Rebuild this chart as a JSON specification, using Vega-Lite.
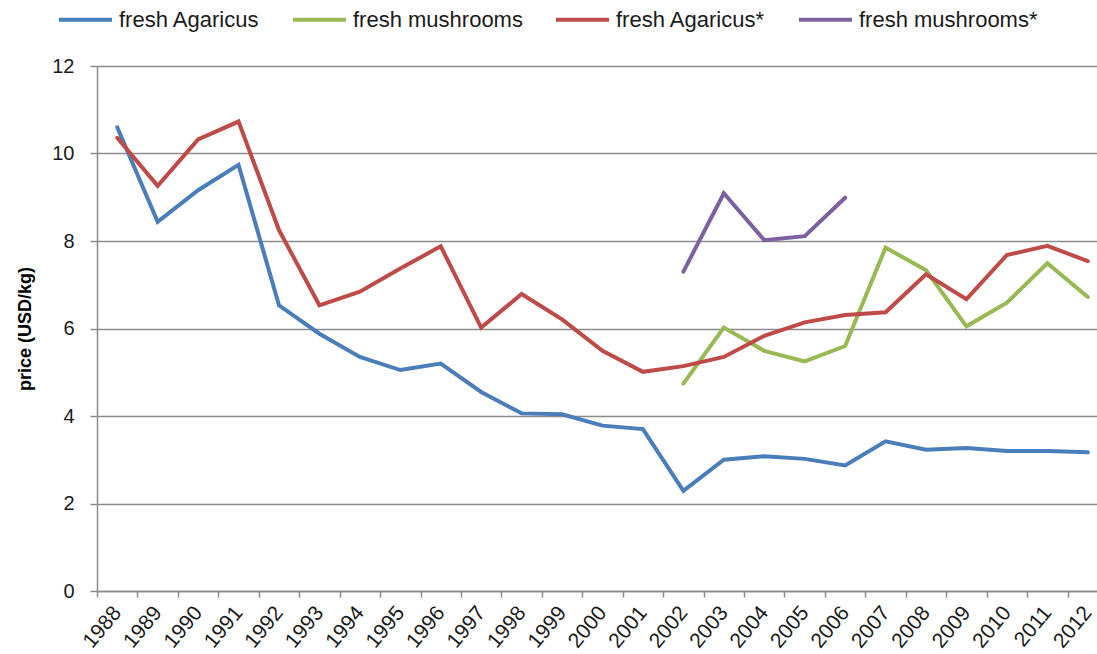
{
  "$schema": "https://vega.github.io/schema/vega-lite/v6.json",
  "autosize": "none",
  "padding": {"left": 97, "top": 66, "right": 0, "bottom": 63},
  "width": 1011,
  "height": 525,
  "background": "white",
  "config": {
    "view": {"stroke": null},
    "font": "Liberation Sans"
  },
  "data": {
    "values": [
      {"year": "1988", "series": "fresh Agaricus", "price": 10.6},
      {"year": "1989", "series": "fresh Agaricus", "price": 8.44},
      {"year": "1990", "series": "fresh Agaricus", "price": 9.16},
      {"year": "1991", "series": "fresh Agaricus", "price": 9.74},
      {"year": "1992", "series": "fresh Agaricus", "price": 6.53},
      {"year": "1993", "series": "fresh Agaricus", "price": 5.88},
      {"year": "1994", "series": "fresh Agaricus", "price": 5.35},
      {"year": "1995", "series": "fresh Agaricus", "price": 5.05},
      {"year": "1996", "series": "fresh Agaricus", "price": 5.2},
      {"year": "1997", "series": "fresh Agaricus", "price": 4.55},
      {"year": "1998", "series": "fresh Agaricus", "price": 4.06},
      {"year": "1999", "series": "fresh Agaricus", "price": 4.04},
      {"year": "2000", "series": "fresh Agaricus", "price": 3.78},
      {"year": "2001", "series": "fresh Agaricus", "price": 3.7},
      {"year": "2002", "series": "fresh Agaricus", "price": 2.29},
      {"year": "2003", "series": "fresh Agaricus", "price": 3.0},
      {"year": "2004", "series": "fresh Agaricus", "price": 3.08},
      {"year": "2005", "series": "fresh Agaricus", "price": 3.02},
      {"year": "2006", "series": "fresh Agaricus", "price": 2.87},
      {"year": "2007", "series": "fresh Agaricus", "price": 3.42},
      {"year": "2008", "series": "fresh Agaricus", "price": 3.23},
      {"year": "2009", "series": "fresh Agaricus", "price": 3.27},
      {"year": "2010", "series": "fresh Agaricus", "price": 3.2},
      {"year": "2011", "series": "fresh Agaricus", "price": 3.2},
      {"year": "2012", "series": "fresh Agaricus", "price": 3.17},
      {"year": "2002", "series": "fresh mushrooms", "price": 4.74},
      {"year": "2003", "series": "fresh mushrooms", "price": 6.02},
      {"year": "2004", "series": "fresh mushrooms", "price": 5.49},
      {"year": "2005", "series": "fresh mushrooms", "price": 5.25},
      {"year": "2006", "series": "fresh mushrooms", "price": 5.6},
      {"year": "2007", "series": "fresh mushrooms", "price": 7.85},
      {"year": "2008", "series": "fresh mushrooms", "price": 7.33},
      {"year": "2009", "series": "fresh mushrooms", "price": 6.05},
      {"year": "2010", "series": "fresh mushrooms", "price": 6.59},
      {"year": "2011", "series": "fresh mushrooms", "price": 7.49},
      {"year": "2012", "series": "fresh mushrooms", "price": 6.72},
      {"year": "1988", "series": "fresh Agaricus*", "price": 10.36},
      {"year": "1989", "series": "fresh Agaricus*", "price": 9.26},
      {"year": "1990", "series": "fresh Agaricus*", "price": 10.32},
      {"year": "1991", "series": "fresh Agaricus*", "price": 10.73},
      {"year": "1992", "series": "fresh Agaricus*", "price": 8.25},
      {"year": "1993", "series": "fresh Agaricus*", "price": 6.53},
      {"year": "1994", "series": "fresh Agaricus*", "price": 6.84},
      {"year": "1995", "series": "fresh Agaricus*", "price": 7.37},
      {"year": "1996", "series": "fresh Agaricus*", "price": 7.88},
      {"year": "1997", "series": "fresh Agaricus*", "price": 6.02},
      {"year": "1998", "series": "fresh Agaricus*", "price": 6.79},
      {"year": "1999", "series": "fresh Agaricus*", "price": 6.21},
      {"year": "2000", "series": "fresh Agaricus*", "price": 5.49},
      {"year": "2001", "series": "fresh Agaricus*", "price": 5.01},
      {"year": "2002", "series": "fresh Agaricus*", "price": 5.14},
      {"year": "2003", "series": "fresh Agaricus*", "price": 5.35},
      {"year": "2004", "series": "fresh Agaricus*", "price": 5.83},
      {"year": "2005", "series": "fresh Agaricus*", "price": 6.14},
      {"year": "2006", "series": "fresh Agaricus*", "price": 6.31},
      {"year": "2007", "series": "fresh Agaricus*", "price": 6.37},
      {"year": "2008", "series": "fresh Agaricus*", "price": 7.24},
      {"year": "2009", "series": "fresh Agaricus*", "price": 6.67},
      {"year": "2010", "series": "fresh Agaricus*", "price": 7.68},
      {"year": "2011", "series": "fresh Agaricus*", "price": 7.89},
      {"year": "2012", "series": "fresh Agaricus*", "price": 7.54},
      {"year": "2002", "series": "fresh mushrooms*", "price": 7.3},
      {"year": "2003", "series": "fresh mushrooms*", "price": 9.09},
      {"year": "2004", "series": "fresh mushrooms*", "price": 8.02},
      {"year": "2005", "series": "fresh mushrooms*", "price": 8.11},
      {"year": "2006", "series": "fresh mushrooms*", "price": 8.99}
    ]
  },
  "mark": {"type": "line", "strokeWidth": 4, "strokeJoin": "miter", "strokeCap": "round"},
  "encoding": {
    "x": {
      "field": "year",
      "type": "ordinal",
      "bandPosition": 0.5,
      "scale": {"type": "band", "paddingInner": 0, "paddingOuter": 0},
      "axis": {
        "title": null,
        "tickBand": "extent",
        "grid": false,
        "domainColor": "#8c8c8c",
        "domainWidth": 1.5,
        "tickColor": "#8c8c8c",
        "tickWidth": 1.5,
        "tickSize": 6,
        "labelAngle": -50,
        "labelAlign": "right",
        "labelBaseline": "middle",
        "labelPadding": 12,
        "labelFontSize": 21,
        "labelColor": "#1a1a1a",
        "labelFont": "Liberation Sans"
      }
    },
    "y": {
      "field": "price",
      "type": "quantitative",
      "scale": {"domain": [0, 12], "nice": false, "zero": true},
      "axis": {
        "title": "price (USD/kg)",
        "titleFont": "Liberation Sans",
        "titleFontSize": 18,
        "titleFontWeight": "bold",
        "titleColor": "#000000",
        "titlePadding": 17,
        "values": [0, 2, 4, 6, 8, 10, 12],
        "grid": true,
        "gridColor": "#8c8c8c",
        "gridWidth": 1.5,
        "domainColor": "#8c8c8c",
        "domainWidth": 1.5,
        "tickColor": "#8c8c8c",
        "tickWidth": 1.5,
        "tickSize": 7,
        "labelPadding": 16,
        "labelFontSize": 20,
        "labelColor": "#1a1a1a",
        "labelFont": "Liberation Sans"
      }
    },
    "color": {
      "field": "series",
      "type": "nominal",
      "scale": {
        "domain": ["fresh Agaricus", "fresh mushrooms", "fresh Agaricus*", "fresh mushrooms*"],
        "range": ["#4a7ebb", "#98b954", "#be4b48", "#7d60a0"]
      },
      "legend": {
        "title": null,
        "orient": "none",
        "direction": "horizontal",
        "legendX": -40,
        "legendY": -75,
        "symbolType": "stroke",
        "symbolSize": 2809,
        "symbolStrokeWidth": 4,
        "labelOffset": 5,
        "columnPadding": 25,
        "labelFontSize": 22,
        "labelFont": "Liberation Sans",
        "labelColor": "#1a1a1a",
        "labelLimit": 400
      }
    }
  }
}
